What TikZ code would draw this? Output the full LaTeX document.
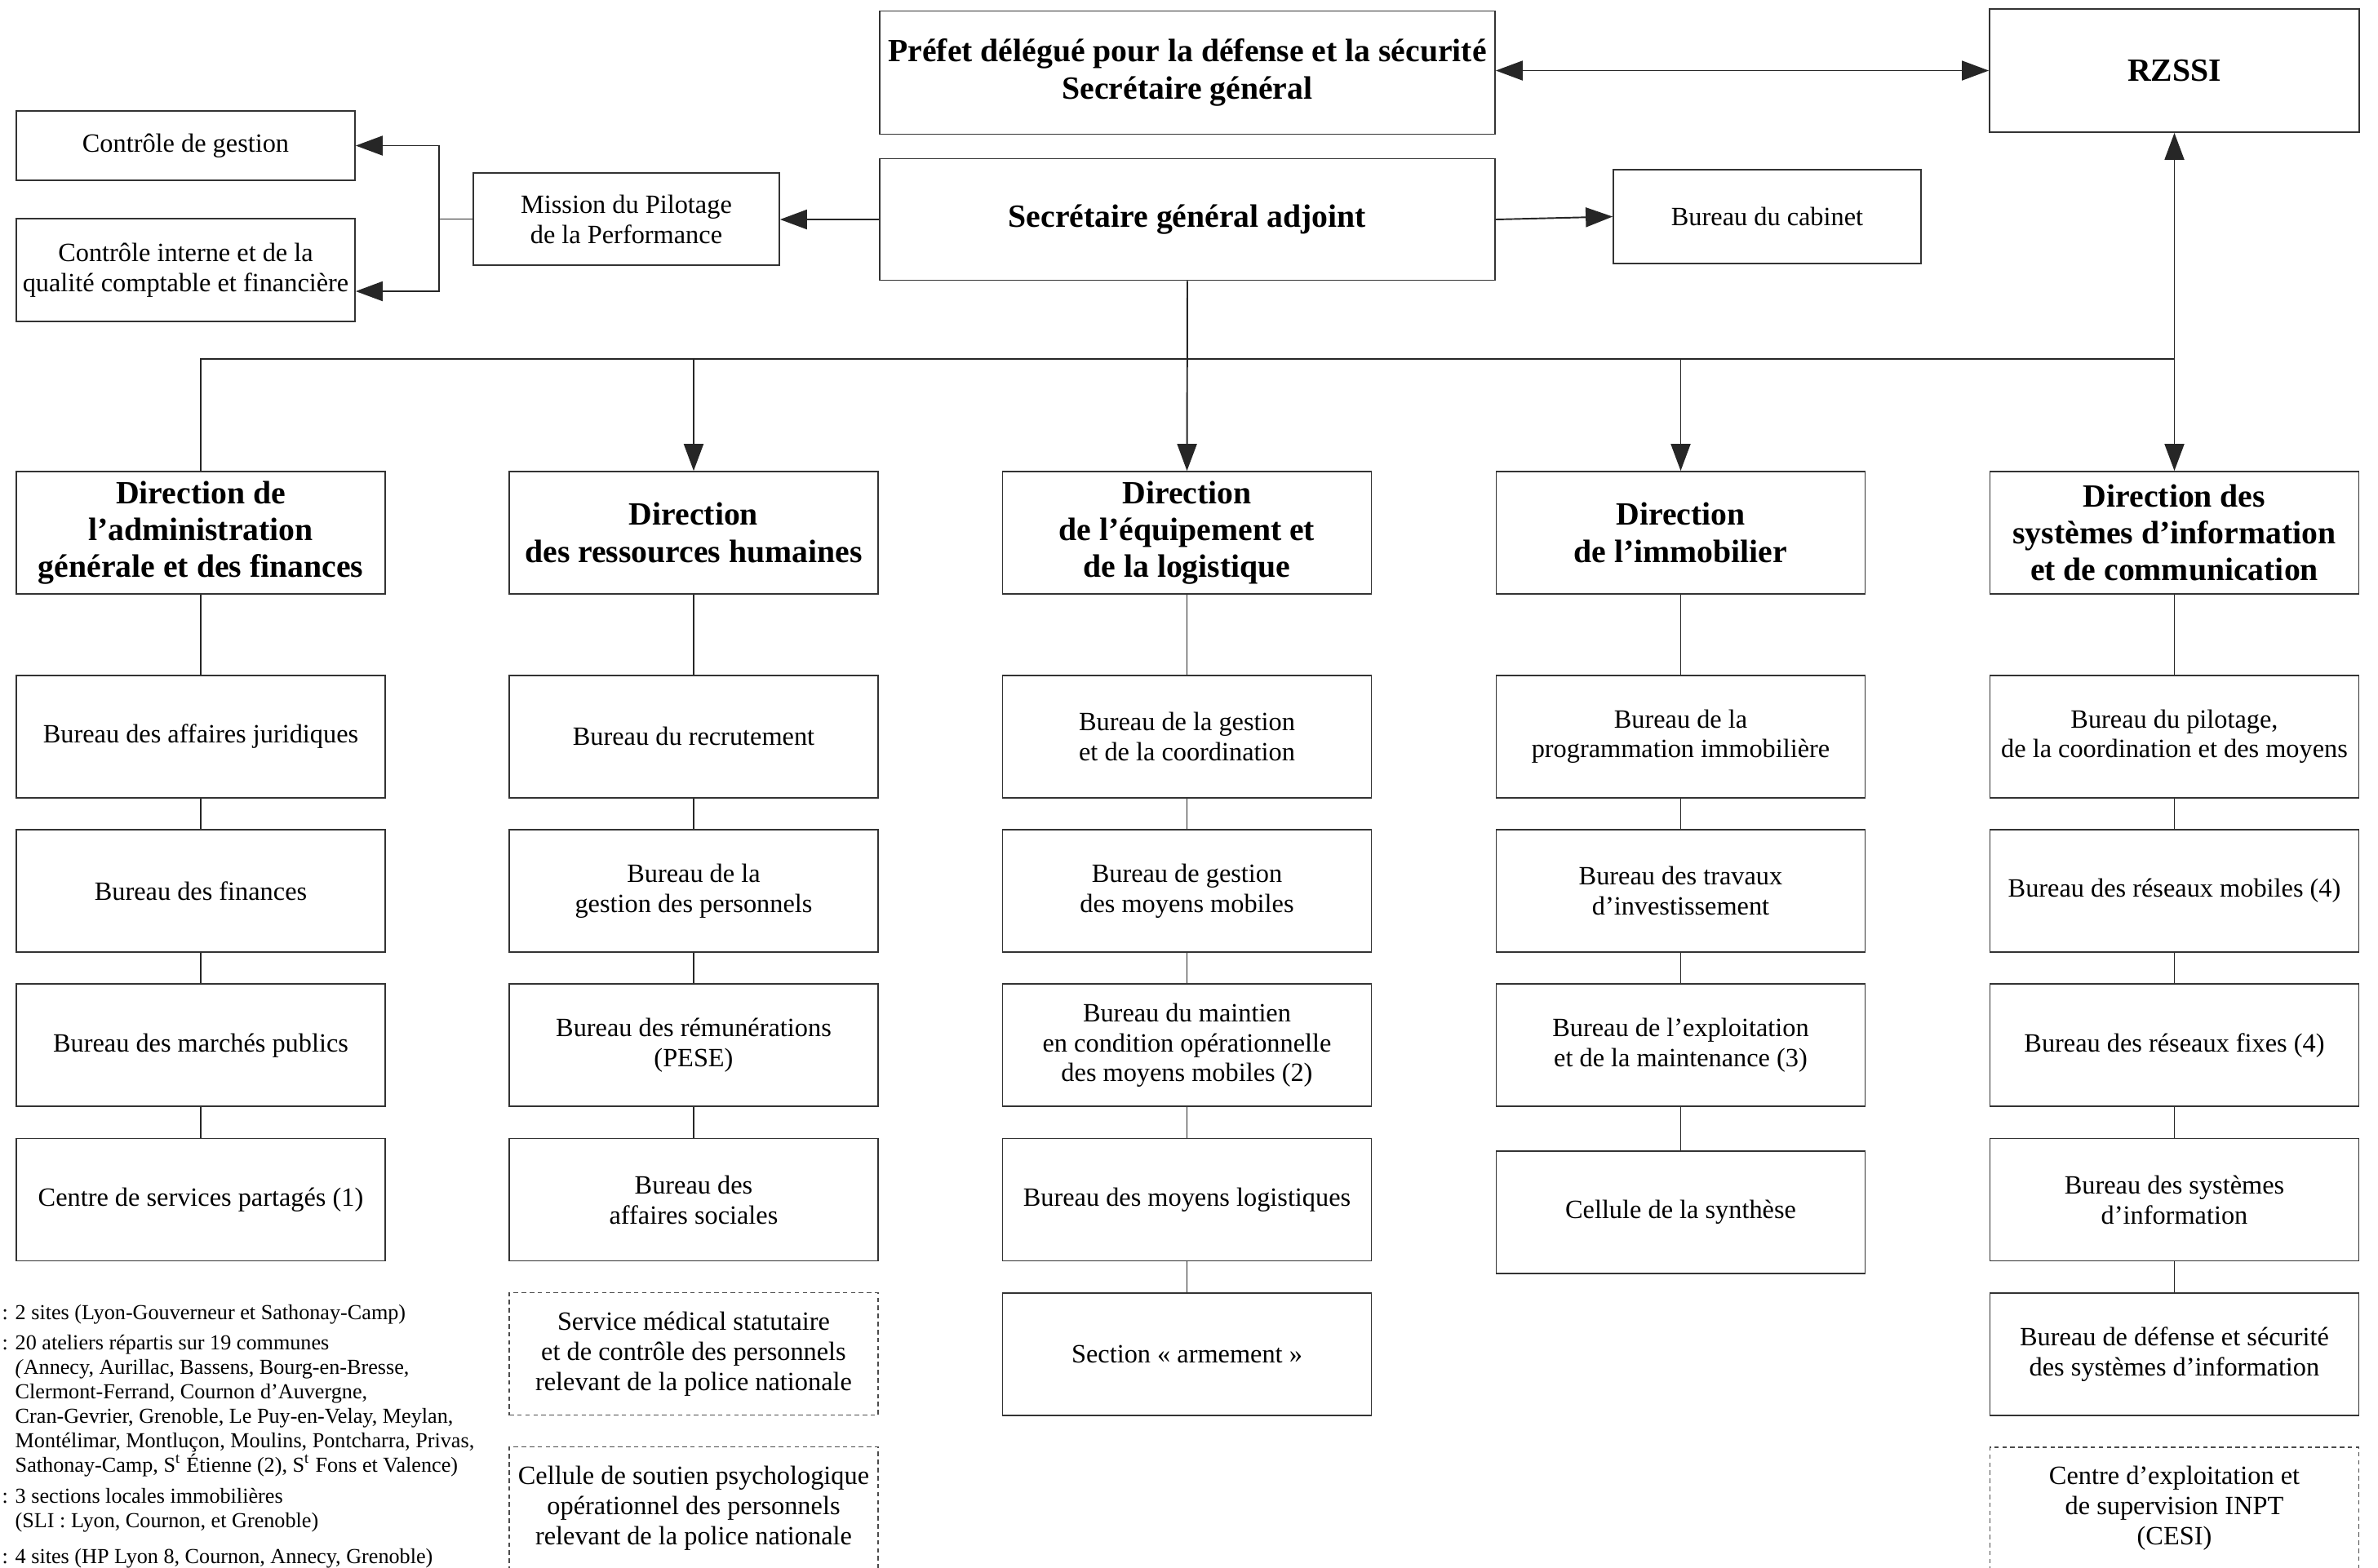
\documentclass[tikz,border=0pt]{standalone}
\usepackage{fontspec}
\setmainfont{Liberation Serif}
\usetikzlibrary{positioning,arrows.meta,calc}

\tikzset{
  unit/.style={draw=black!80, line width=0.5pt, align=center, minimum width=4.52cm, minimum height=1.5cm, inner sep=2pt, font=\fontsize{9.2}{10.5}\selectfont},
  dirbox/.style={unit, font=\fontsize{11.3}{12.9}\selectfont\bfseries},
  annex/.style={unit, draw=black!70, line width=0.4pt, dash pattern=on 1.6pt off 1.2pt},
  link/.style={draw=black!85, line width=0.55pt},
  arr/.style={link, -{Triangle[length=0.33cm,width=0.24cm]}},
  both/.style={link, {Triangle[length=0.33cm,width=0.24cm]}-{Triangle[length=0.33cm,width=0.24cm]}},
  note/.style={anchor=north west, align=left, inner sep=0pt, font=\fontsize{7.45}{8.5}\selectfont}
}

\begin{document}
\begin{tikzpicture}
  \useasboundingbox (0,0) rectangle (29.14,-19.21);
  \clip (0,0) rectangle (29.14,-19.21);

  % top of the chart
  \node[dirbox, minimum width=7.54cm, minimum height=1.51cm] (prefet) at (14.55,-0.89) {Préfet délégué pour la défense et la sécurité\\Secrétaire général};
  \node[dirbox, minimum width=4.53cm, minimum height=1.51cm] (rzssi) at (26.645,-0.865) {RZSSI};
  \node[dirbox, minimum width=7.54cm, minimum height=1.49cm] (sga) at (14.55,-2.69) {Secrétaire général adjoint};
  \node[unit, minimum width=3.75cm, minimum height=1.13cm] (mission) at (7.675,-2.685) {Mission du Pilotage\\de la Performance};
  \node[unit, minimum width=3.77cm, minimum height=1.15cm] (cabinet) at (21.655,-2.655) {Bureau du cabinet};
  \node[unit, minimum width=4.15cm, minimum height=0.85cm] (gestion) at (2.275,-1.785) {Contrôle de gestion};
  \node[unit, minimum width=4.15cm, minimum height=1.26cm] (interne) at (2.275,-3.31) {Contrôle interne et de la\\qualité comptable et financière};

  % directions
  \node[dirbox] (dag) at (2.46,-6.53) {Direction de\\l’administration\\générale et des finances};
  \node[dirbox] (drh) at (8.50,-6.53) {Direction\\des ressources humaines};
  \node[dirbox] (del) at (14.545,-6.53) {Direction\\de l’équipement et\\de la logistique};
  \node[dirbox] (dim) at (20.595,-6.53) {Direction\\de l’immobilier};
  \node[dirbox] (dsi) at (26.645,-6.53) {Direction des\\systèmes d’information\\et de communication};

  % bureaux
  \node[unit, below=0.98cm of dag] (dag1) {Bureau des affaires juridiques};
  \node[unit, below=0.375cm of dag1] (dag2) {Bureau des finances};
  \node[unit, below=0.375cm of dag2] (dag3) {Bureau des marchés publics};
  \node[unit, below=0.375cm of dag3] (dag4) {Centre de services partagés (1)};

  \node[unit, below=0.98cm of drh] (drh1) {Bureau du recrutement};
  \node[unit, below=0.375cm of drh1] (drh2) {Bureau de la\\gestion des personnels};
  \node[unit, below=0.375cm of drh2] (drh3) {Bureau des rémunérations\\(PESE)};
  \node[unit, below=0.375cm of drh3] (drh4) {Bureau des\\affaires sociales};
  \node[annex, below=0.375cm of drh4] (drh5) {Service médical statutaire\\et de contrôle des personnels\\relevant de la police nationale};
  \node[annex, below=0.375cm of drh5] (drh6) {Cellule de soutien psychologique\\opérationnel des personnels\\relevant de la police nationale};

  \node[unit, below=0.98cm of del] (del1) {Bureau de la gestion\\et de la coordination};
  \node[unit, below=0.375cm of del1] (del2) {Bureau de gestion\\des moyens mobiles};
  \node[unit, below=0.375cm of del2] (del3) {Bureau du maintien\\en condition opérationnelle\\des moyens mobiles (2)};
  \node[unit, below=0.375cm of del3] (del4) {Bureau des moyens logistiques};
  \node[unit, below=0.375cm of del4] (del5) {Section « armement »};

  \node[unit, below=0.98cm of dim] (dim1) {Bureau de la\\programmation immobilière};
  \node[unit, below=0.375cm of dim1] (dim2) {Bureau des travaux\\d’investissement};
  \node[unit, below=0.375cm of dim2] (dim3) {Bureau de l’exploitation\\et de la maintenance (3)};
  \node[unit, below=0.53cm of dim3] (dim4) {Cellule de la synthèse};

  \node[unit, below=0.98cm of dsi] (dsi1) {Bureau du pilotage,\\de la coordination et des moyens};
  \node[unit, below=0.375cm of dsi1] (dsi2) {Bureau des réseaux mobiles (4)};
  \node[unit, below=0.375cm of dsi2] (dsi3) {Bureau des réseaux fixes (4)};
  \node[unit, below=0.375cm of dsi3] (dsi4) {Bureau des systèmes\\d’information};
  \node[unit, below=0.375cm of dsi4] (dsi5) {Bureau de défense et sécurité\\des systèmes d’information};
  \node[annex, below=0.375cm of dsi5] (dsi6) {Centre d’exploitation et\\de supervision INPT\\(CESI)};

  % notes
  \node[note] (fn1) at (0.02,-15.99) {: 2 sites (Lyon-Gouverneur et Sathonay-Camp)};
  \node[note] (fn2) at (0.02,-16.36) {: 20 ateliers répartis sur 19 communes\\
    \hphantom{: }\textit{(}Annecy, Aurillac, Bassens, Bourg-en-Bresse,\\
    \hphantom{: }Clermont-Ferrand, Cournon d’Auvergne,\\
    \hphantom{: }Cran-Gevrier, Grenoble, Le Puy-en-Velay, Meylan,\\
    \hphantom{: }Montélimar, Montluçon, Moulins, Pontcharra, Privas,\\
    \hphantom{: }Sathonay-Camp, S\textsuperscript{t}~Étienne (2), S\textsuperscript{t}~Fons et Valence)};
  \node[note] (fn3) at (0.02,-18.24) {: 3 sections locales immobilières\\
    \hphantom{: }(SLI : Lyon, Cournon, et Grenoble)};
  \node[note] (fn4) at (0.02,-18.98) {: 4 sites (HP Lyon 8, Cournon, Annecy, Grenoble)};

  % connectors
  \draw[both] (prefet.east |- rzssi.west) -- (rzssi.west);
  \draw[arr] (sga.west) -- (sga.west -| mission.east);
  \draw[arr] (sga.east) -- (cabinet.west);
  \draw[link] (mission.west) -- ++(-0.41,0) coordinate (fork);
  \draw[arr] (fork) |- (gestion.east);
  \draw[arr] (fork) |- ([yshift=-0.26cm]interne.east);

  \coordinate (bus) at (0,-4.40);
  \draw[link] (dag.north) -- (dag.north |- bus) -- (dsi.north |- bus);
  \draw[arr] (sga.south) -- (del.north);
  \draw[arr] (drh.north |- bus) -- (drh.north);
  \draw[arr] (dim.north |- bus) -- (dim.north);
  \draw[both] (rzssi.south) -- (dsi.north);

  \foreach \a/\b in {dag/dag1, dag1/dag2, dag2/dag3, dag3/dag4,
                     drh/drh1, drh1/drh2, drh2/drh3, drh3/drh4,
                     del/del1, del1/del2, del2/del3, del3/del4, del4/del5,
                     dim/dim1, dim1/dim2, dim2/dim3, dim3/dim4,
                     dsi/dsi1, dsi1/dsi2, dsi2/dsi3, dsi3/dsi4, dsi4/dsi5}
    \draw[link] (\a) -- (\b);
\end{tikzpicture}
\end{document}
